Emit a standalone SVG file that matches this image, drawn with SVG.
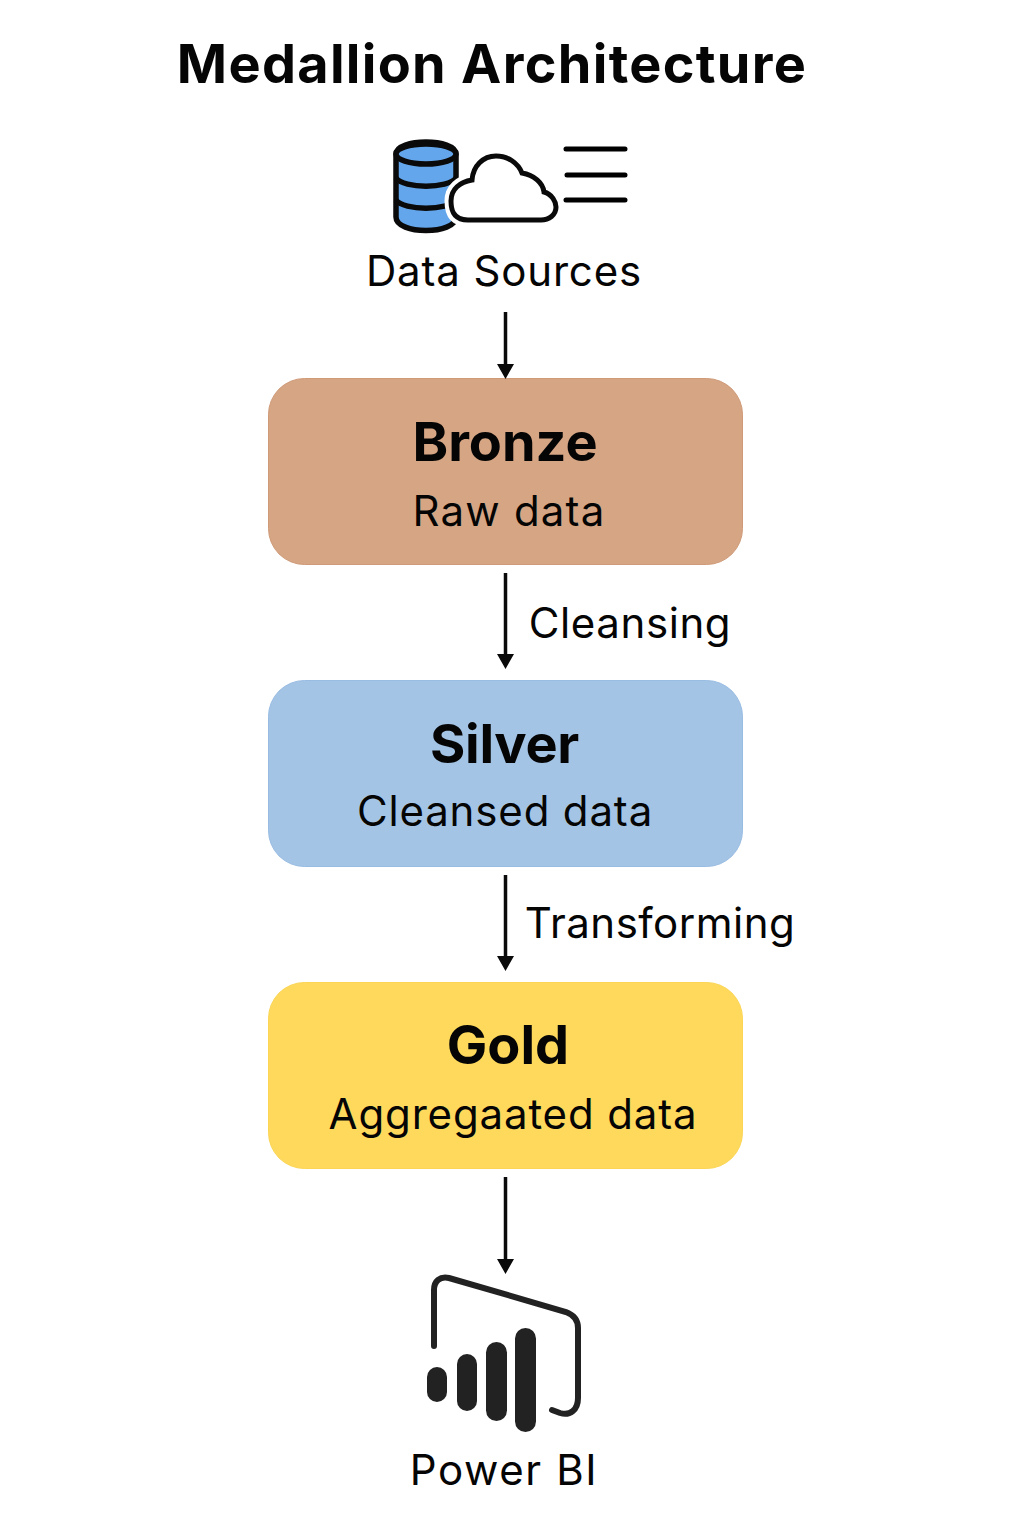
<svg xmlns="http://www.w3.org/2000/svg" width="1024" height="1536" viewBox="0 0 1024 1536">
<style>
text{font-family:Inter,"Liberation Sans",sans-serif;fill:#050505;text-anchor:middle}
.t{font-size:54px;font-weight:700;letter-spacing:1.3px}
.h{font-size:54px;font-weight:700;letter-spacing:0}
.s{font-size:42px;font-weight:400;letter-spacing:.85px}
.box{stroke-width:1}
.c{stroke:#0a0a0a;stroke-width:3.500;fill:none}
.ah{fill:#0a0a0a}
.k{stroke:#000;stroke-width:5;fill:none;stroke-linecap:round}
.b{fill:#222}
</style>
<rect width="1024" height="1536" fill="#fff"/>
<text class="t" x="492" y="83">Medallion Architecture</text>
<g id="data-sources">
<path d="M396 154C396 138 456 138 456 154V217C456 235 396 235 396 217Z" fill="#63a6ec" stroke="#0a0a0a" stroke-width="5.500"/>
<ellipse cx="426" cy="154" rx="30" ry="10" fill="#63a6ec" stroke="#0a0a0a" stroke-width="5.500"/>
<path d="M396 178C404 189 448 189 456 178M396 200C404 211 448 211 456 200" fill="none" stroke="#0a0a0a" stroke-width="5.500"/>
<path d="M468 220C452 220 451 208 451 201C451 189 460 182 472 180C473 166 483 156 496 156C508 156 518 163 522 173C534 175 543 183 544 192C552 194 556 202 556 207C556 215 549 220 541 220Z" fill="#fff" stroke="#fff" stroke-width="13"/>
<path d="M468 220C452 220 451 208 451 201C451 189 460 182 472 180C473 166 483 156 496 156C508 156 518 163 522 173C534 175 543 183 544 192C552 194 556 202 556 207C556 215 549 220 541 220Z" fill="#fff" stroke="#0a0a0a" stroke-width="5"/>
<path class="k" d="M566 149H625M567 175H625M566 200H625"/>
<text class="s" x="504" y="286">Data Sources</text>
</g>
<g id="bronze"><rect class="box" x="268.500" y="378.500" width="474" height="186" rx="36" fill="#d6a584" stroke="#cf9a78"/>
<text class="h" x="505" y="461">Bronze</text><text class="s" x="509" y="526" style="letter-spacing:1.2px">Raw data</text></g>
<g id="silver"><rect class="box" x="268.500" y="680.500" width="474" height="186" rx="36" fill="#a4c4e6" stroke="#98bce2"/>
<text class="h" x="504.500" y="763" style="letter-spacing:-.3px">Silver</text><text class="s" x="505" y="826">Cleansed data</text></g>
<g id="gold"><rect class="box" x="268.500" y="982.500" width="474" height="186" rx="36" fill="#fed95c" stroke="#fbd553"/>
<text class="h" x="508" y="1064">Gold</text><text class="s" x="513" y="1129">Aggregaated data</text></g>
<g id="power-bi">
<path d="M434 1346V1290C434 1281 440 1276 449 1278L566 1312C574 1315 578 1320 578 1328V1398C578 1410 570 1416 560 1413L552 1410" fill="none" stroke="#222" stroke-width="6" stroke-linecap="round"/>
<rect class="b" x="427" y="1367" width="20" height="35" rx="10"/>
<rect class="b" x="457" y="1354" width="20" height="57" rx="10"/>
<rect class="b" x="486" y="1342" width="21" height="79" rx="10.500"/>
<rect class="b" x="515" y="1328" width="21" height="104" rx="10.500"/>
<text class="s" x="504" y="1485" style="letter-spacing:1.6px">Power BI</text>
</g>
<g id="connectors">
<path class="c" d="M505.500 312V366M505.500 573V656M505.500 875V958M505.500 1177V1261"/>
<path class="ah" d="M497 364H514L505.500 379ZM497 654H514L505.500 669ZM497 956H514L505.500 971ZM497 1259H514L505.500 1274Z"/>
</g>
<g id="labels">
<text class="s" x="630" y="638" style="letter-spacing:.6px">Cleansing</text>
<text class="s" x="660" y="938" style="letter-spacing:.5px">Transforming</text>
</g>
</svg>
